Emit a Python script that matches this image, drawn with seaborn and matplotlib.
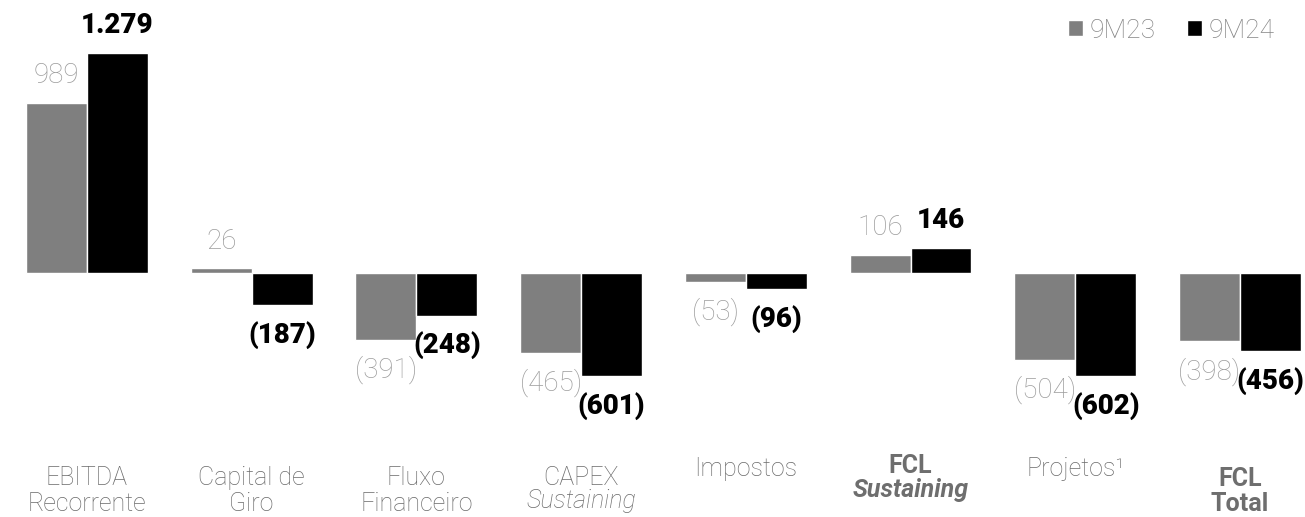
import numpy as np
import pandas as pd
import matplotlib
matplotlib.use("Agg")
import matplotlib.pyplot as plt
import seaborn as sns

# data (R$ milhões)
categorias = ["EBITDA Recorrente", "Capital de Giro", "Fluxo Financeiro", "CAPEX Sustaining",
              "Impostos", "FCL Sustaining", "Projetos", "FCL Total"]
v_9m23 = [989, 26, -391, -465, -53, 106, -504, -398]
v_9m24 = [1279, -187, -248, -601, -96, 146, -602, -456]
series = ["9M23", "9M24"]

sns.set_theme(style="white")
plt.rcParams["font.family"] = ["Roboto", "DejaVu Sans"]

df = pd.DataFrame({
    "cat": categorias * 2,
    "serie": [series[0]] * len(categorias) + [series[1]] * len(categorias),
    "valor": v_9m23 + v_9m24,
})

fig = plt.figure(figsize=(13.05, 5.17), dpi=100)
ax = fig.add_axes([0, 0, 1, 1])

sns.barplot(data=df, x="cat", y="valor", hue="serie", order=categorias, hue_order=series,
            palette=["#7f7f7f", "#000000"], width=0.74, saturation=1, ax=ax, errorbar=None)

ax.set_xlim(-0.528, 7.395)
ax.set_ylim(-1419, 1587)
ax.axis("off")

def fmt(v):
    s = f"{abs(v):,}".replace(",", ".")
    return f"({s})" if v < 0 else s

# value labels
for i, cont in enumerate(ax.containers):
    vals = v_9m23 if i == 0 else v_9m24
    for bar, v in zip(cont, vals):
        x = bar.get_x() + bar.get_width() / 2
        off = 19.5 if v >= 0 else -21.5
        if i == 0:
            ax.annotate(fmt(v), (x, v), xytext=(0, off), textcoords="offset points",
                        ha="center", va="center", fontsize=20, fontweight="light", color="#9c9c9c")
        else:
            ax.annotate(fmt(v), (x, v), xytext=(0, off), textcoords="offset points",
                        ha="center", va="center", fontsize=20, fontweight="black", color="#000000")

# category labels (each line on its own baseline, y in pixels from top)
tr = ax.get_xaxis_transform()
H = 517.0
rotulos = [
    [("EBITDA", 485, "normal", "light"), ("Recorrente", 511, "normal", "light")],
    [("Capital de", 485, "normal", "light"), ("Giro", 511, "normal", "light")],
    [("Fluxo", 485, "normal", "light"), ("Financeiro", 511, "normal", "light")],
    [("CAPEX", 485, "normal", "light"), ("Sustaining", 508, "italic", "light")],
    [("Impostos", 476, "normal", "light")],
    [("FCL", 473, "normal", "bold"), ("Sustaining", 497, "italic", "bold")],
    [("Projetos¹", 476, "normal", "light")],
    [("FCL", 486, "normal", "bold"), ("Total", 511, "normal", "bold")],
]
for i, linhas in enumerate(rotulos):
    for txt, ypx, estilo, peso in linhas:
        cor = "#6e6e6e" if peso == "bold" else "#6a6a6a"
        ax.text(i, 1 - ypx / H, txt, transform=tr, ha="center", va="baseline",
                fontsize=18, fontstyle=estilo, fontweight=peso, color=cor)

# legend
handles, labels = ax.get_legend_handles_labels()
leg = ax.legend(handles, labels, loc="upper right", bbox_to_anchor=(1285 / 1305, 1 - 8 / H),
                ncol=2, frameon=False, fontsize=19, handlelength=0.55, handleheight=0.55,
                handletextpad=0.25, columnspacing=1.2, borderaxespad=0)
for t in leg.get_texts():
    t.set_color("#858585")
    t.set_fontweight("light")

fig.savefig("out.png", dpi=100)
